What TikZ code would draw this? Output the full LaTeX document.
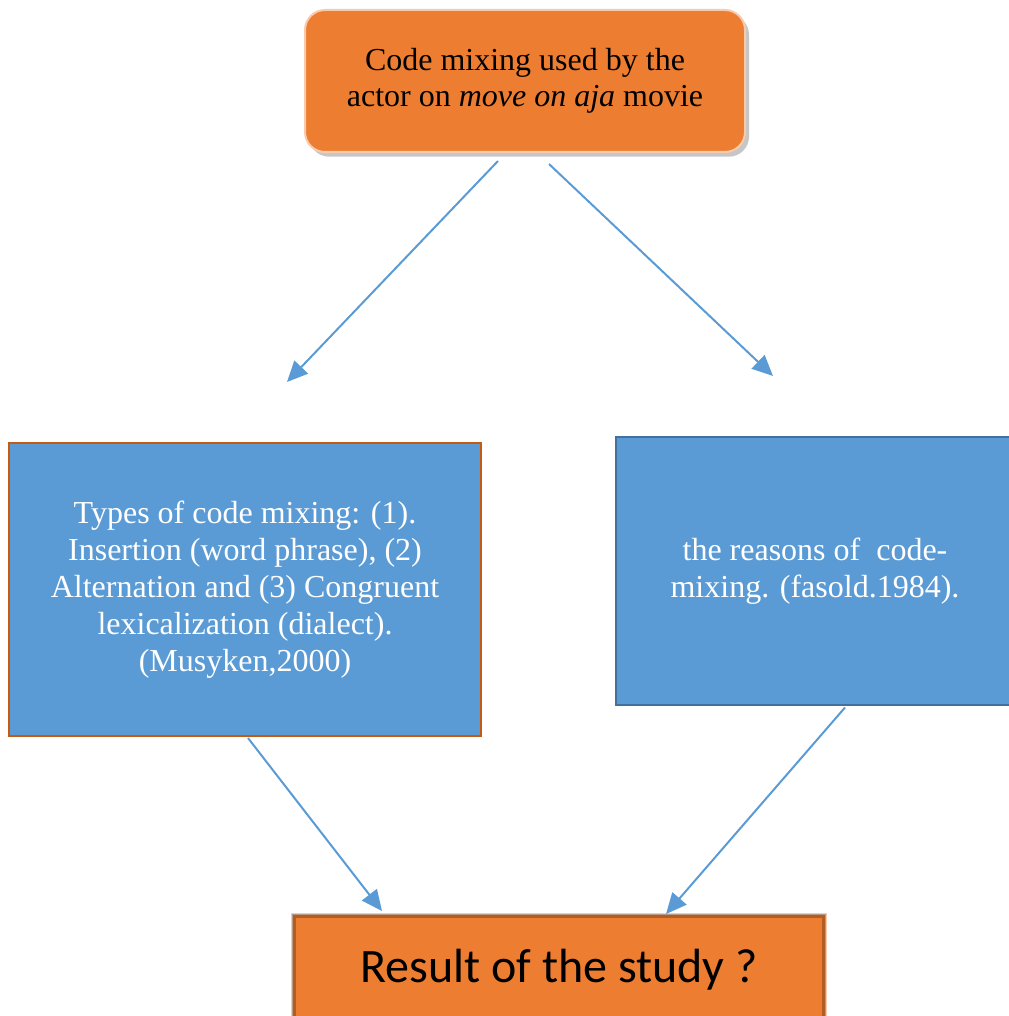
\documentclass[tikz,border=0pt]{standalone}
\usepackage{fontspec}
\setmainfont{Liberation Serif}[ItalicFont={Liberation Serif Italic}]
\newfontfamily\calibri{Carlito}
\usepackage{xcolor}
\usepackage{tikz}
\usetikzlibrary{calc}
\usetikzlibrary{arrows.meta,shadows}
\definecolor{boxorange}{HTML}{ED7D31}
\definecolor{boxblue}{HTML}{5B9BD5}
\definecolor{peach}{HTML}{F8CBAD}
\definecolor{darkorange}{HTML}{C55A11}
\definecolor{darkblue}{HTML}{41719C}
\tikzset{
  link/.style={line width=1.5pt,boxblue,-{Triangle[length=15.5pt,width=14pt]}},
  bluebox/.style={draw,line width=1.5pt,fill=boxblue,text=white,align=center,font=\fontsize{24}{27.8}\selectfont},
}

\begin{document}
\begin{tikzpicture}[x=0.75pt,y=-0.75pt]
        \useasboundingbox (0,0) rectangle (1008,1016);
        \node[draw=peach,line width=1.5pt,fill=boxorange,rounded corners=15pt,minimum width=330pt,minimum height=106.5pt,align=center,font=\fontsize{24}{27.2}\selectfont,drop shadow={opacity=0.45,shadow xshift=3pt,shadow yshift=-3.5pt}] (top) at (525,81){Code mixing used by the\\actor on \textit{move on aja} movie};
        \node[bluebox,draw=darkorange,minimum width=354pt,minimum height=219.75pt] (types) at (245,589.5){Types of code mixing: (1).\\Insertion (word phrase), (2)\\Alternation and (3) Congruent\\lexicalization (dialect).\\(Musyken,2000)};
        \node[bluebox,draw=darkblue,minimum width=298.5pt,minimum height=201pt] (reasons) at (815,571){the reasons of~ code-\\mixing. (fasold.1984).};
        \node[draw=peach,line width=1.5pt,fill=boxorange,minimum width=400.5pt,minimum height=84pt,font=\calibri\fontsize{36}{43}\selectfont] (result) at (559,970){Result of the study ?};
        \draw[line width=3pt,black,opacity=0.25] ($(result.north west)+(3,3)$) rectangle ($(result.south east)+(-3,-3)$);

        \coordinate (a) at ($(top.south)+(-27,8)$);
        \coordinate (b) at ($(top.south)+(24,11)$);
        \coordinate (c) at ($(types.north)+(42,-60)$);
        \coordinate (d) at ($(reasons.north)+(-42,-60)$);
        \coordinate (e) at ($(types.south)+(3,1)$);
        \coordinate (f) at ($(reasons.south)+(30,1.5)$);
        \coordinate (g) at ($(result.north)+(-177,-2)$);
        \coordinate (h) at ($(result.north)+(107,1)$);
        \draw[link] (a)--(c);
        \draw[link] (b)--(d);
        \draw[link] (e)--(g);
        \draw[link] (f)--(h);
    \end{tikzpicture}
\end{document}
